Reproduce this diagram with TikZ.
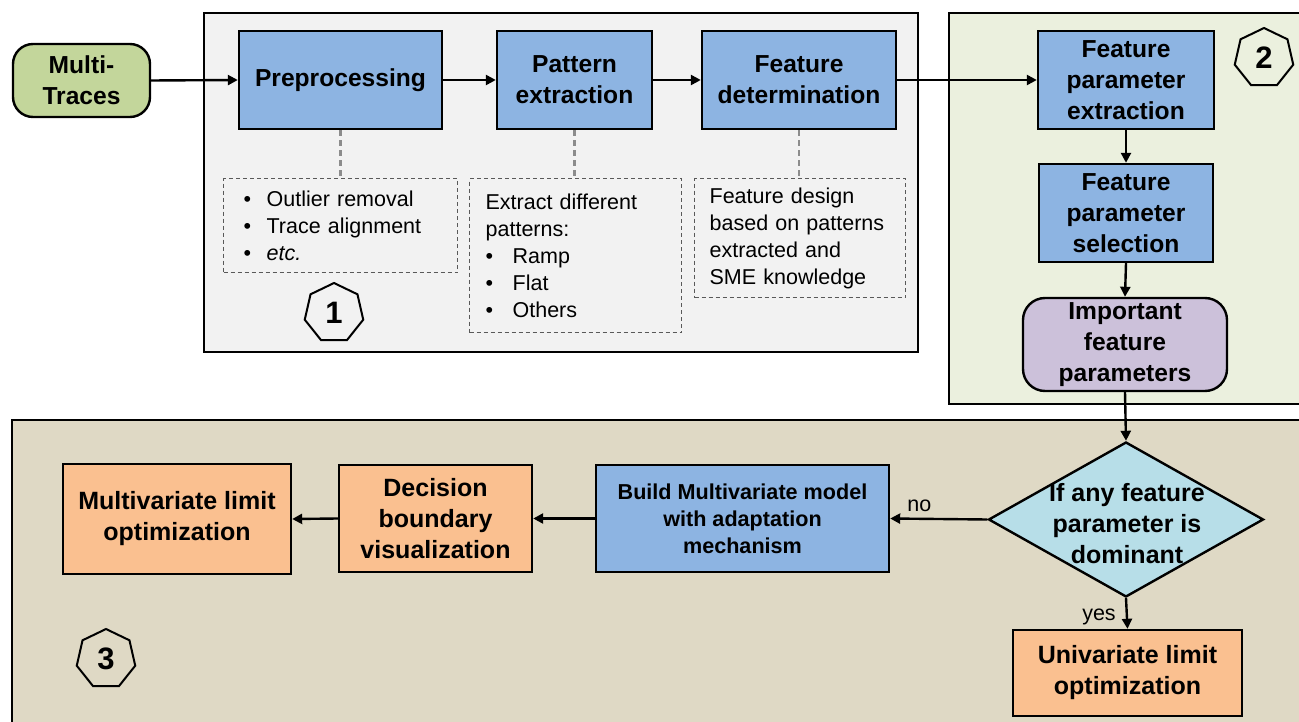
\documentclass[tikz,border=0pt]{standalone}
\usepackage{fontspec}
\setmainfont{Liberation Sans}
\usetikzlibrary{shapes.geometric,arrows.meta}

\definecolor{boxblue}{HTML}{8DB4E2}
\definecolor{boxgreen}{HTML}{C3D69B}
\definecolor{boxpurple}{HTML}{CCC1DA}
\definecolor{boxorange}{HTML}{FAC090}
\definecolor{boxcyan}{HTML}{B7DEE8}
\definecolor{paneone}{HTML}{F2F2F2}
\definecolor{panetwo}{HTML}{EBF0DE}
\definecolor{panethree}{HTML}{DFD9C5}
\definecolor{notegray}{HTML}{595959}
\definecolor{tiegray}{HTML}{8C8C8C}

\newcommand{\bulletitem}[2][23pt]{\makebox[#1][l]{\textbullet}#2}

\tikzset{
  panel/.style={draw=black, line width=2.4pt},
  boxbase/.style={draw=black, line width=2.4pt, align=center, inner sep=0pt,
    font=\bfseries\fontsize{24.6}{31}\selectfont},
  proc/.style={boxbase, fill=boxblue},
  termbox/.style={boxbase, rounded corners=20pt},
  outbox/.style={boxbase, fill=boxorange, font=\bfseries\fontsize{25}{31}\selectfont},
  flow/.style={line width=2.4pt, -{Triangle[length=10pt,width=10pt]}},
  note/.style={draw=notegray, line width=1.3pt, dash pattern=on 4pt off 3pt,
    align=left, anchor=north west, inner ysep=0pt,
    font=\fontsize{21.5}{27}\selectfont},
  tie/.style={draw=tiegray, line width=2.2pt, dash pattern=on 6pt off 4pt},
  hept/.style={regular polygon, regular polygon sides=7, draw=black, line width=2pt,
    minimum size=60pt, inner sep=0pt, font=\bfseries\fontsize{31}{31}\selectfont},
  lbl/.style={font=\fontsize{21.5}{25}\selectfont, inner sep=2pt}
}

\begin{document}
\begin{tikzpicture}[x=1pt,y=-1pt]
\useasboundingbox (0,0) rectangle (1299,722);
\clip (0,0) rectangle (1299,722);

% stage panels
\filldraw[panel, fill=paneone] (204,13) rectangle (918,352);
\filldraw[panel, fill=panetwo] (949,13) rectangle (1320,404);
\filldraw[panel, fill=panethree] (12,420) rectangle (1320,740);

% input
\node[termbox, fill=boxgreen, minimum width=137pt, minimum height=73pt]
  (mt) at (81.5,80.5) {Multi-\\Traces};

% stage 1
\node[proc, minimum width=203pt, minimum height=98pt] (pre) at (340.5,80) {Preprocessing};
\node[proc, minimum width=155pt, minimum height=98pt] (pat) at (574.5,80) {Pattern\\extraction};
\node[proc, minimum width=194pt, minimum height=98pt] (fdet) at (799,80) {Feature\\determination};

\node[note, inner xsep=20pt, text width=194pt, minimum height=94pt] (nA) at (223,178)
  {\bulletitem{Outlier removal}\\\bulletitem{Trace alignment}\\\bulletitem{\textit{etc.}}};
\node[note, inner xsep=16pt, text width=180pt, minimum height=154pt] (nB) at (469,178)
  {Extract different\\patterns:\\\bulletitem[27pt]{Ramp}\\\bulletitem[27pt]{Flat}\\\bulletitem[27pt]{Others}};
\node[note, inner xsep=15pt, text width=181pt, minimum height=119pt] (nC) at (694,178)
  {Feature design\\based on patterns\\extracted and\\SME knowledge};

\draw[tie] (pre.south) -- (nA.north -| pre.south);
\draw[tie] (pat.south) -- (nB.north -| pat.south);
\draw[tie] (fdet.south) -- (nC.north -| fdet.south);

\node[hept] (h1) at (334,313) {1};

% stage 2
\node[proc, minimum width=176pt, minimum height=98pt] (fpe) at (1126,80) {Feature\\parameter\\extraction};
\node[proc, minimum width=174pt, minimum height=98pt] (fps) at (1126,213) {Feature\\parameter\\selection};
\node[termbox, fill=boxpurple, rounded corners=22pt, minimum width=204pt, minimum height=93pt]
  (ifp) at (1125,344.5) {Important\\feature\\parameters};
\node[hept] (h2) at (1264,58) {2};

% stage 3
\node[diamond, draw=black, line width=2.4pt, fill=boxcyan, inner sep=0pt,
  minimum width=275pt, minimum height=155pt] (dec) at (1126,519.5) {};
\node[align=center, inner sep=0pt, font=\bfseries\fontsize{25}{31}\selectfont]
  (dectext) at (1127,524) {If any feature\\parameter is\\dominant};
\node[proc, minimum width=293pt, minimum height=107pt, font=\bfseries\fontsize{21.6}{27}\selectfont]
  (build) at (742.5,518.5) {Build Multivariate model\\with adaptation\\mechanism};
\node[outbox, minimum width=193pt, minimum height=107pt] (dbv) at (435.5,518.5) {Decision\\boundary\\visualization};
\node[outbox, minimum width=228pt, minimum height=110pt] (mlo) at (177,519) {Multivariate limit\\optimization};
\node[outbox, minimum width=229pt, minimum height=86pt] (ulo) at (1127.5,673) {Univariate limit\\optimization};
\node[hept] (h3) at (106,659) {3};

% connectors
\draw[flow] (mt.east) -- (pre.west);
\draw[flow] (pre.east) -- (pat.west);
\draw[flow] (pat.east) -- (fdet.west);
\draw[flow] (fdet.east) -- (fpe.west);
\draw[flow] (fpe.south) -- (fps.north);
\draw[flow] (fps.south) -- (ifp.north);
\draw[flow] (ifp.south) -- (dec.north);
\draw[flow] (dec.west) -- node[lbl, pos=0.7, above=4pt] {no} (build.east);
\draw[flow] (dec.south) -- node[lbl, pos=0.6, left=8pt] {yes} (ulo.north);
\draw[flow] (build.west) -- (dbv.east);
\draw[flow] (dbv.west) -- (mlo.east);
\end{tikzpicture}
\end{document}
